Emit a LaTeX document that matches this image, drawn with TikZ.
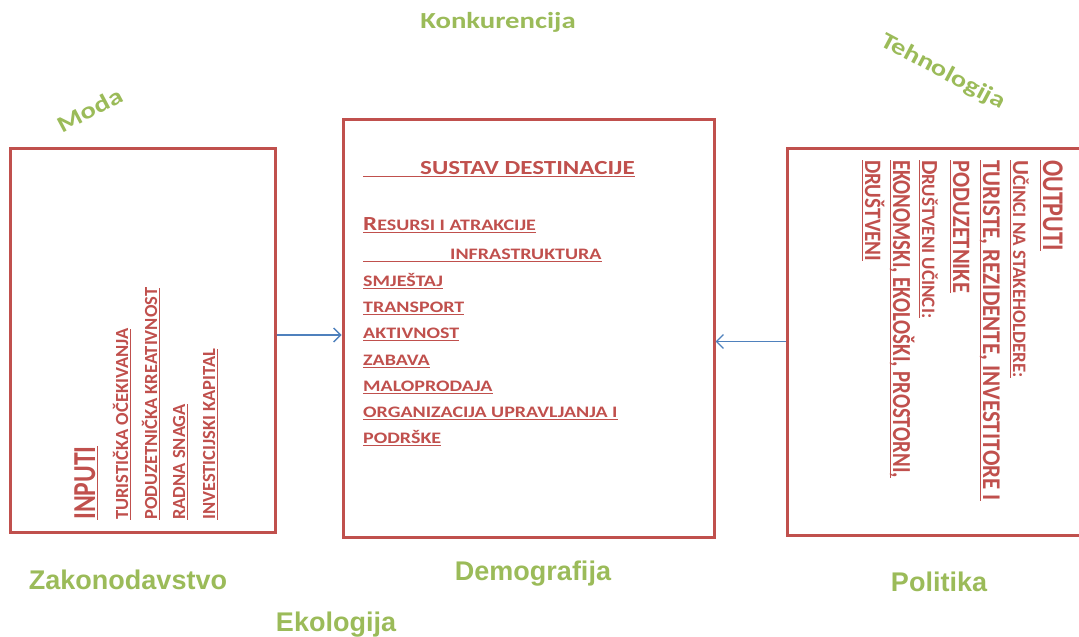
\documentclass[tikz,border=0pt]{standalone}
\usepackage{fontspec}
\setmainfont{Carlito}
\newfontfamily\cw{Carlito}[FakeStretch=1.25]
\newfontfamily\cn{Carlito}[FakeStretch=0.8]
\newfontfamily\cm{Carlito}[FakeStretch=0.9]
\newfontfamily\ar{Liberation Sans}
\usetikzlibrary{arrows.meta}
\definecolor{boxred}{HTML}{C0504D}
\definecolor{grn}{HTML}{9BBB59}
\definecolor{arrblue}{HTML}{4F81BD}
\newcommand\setfs[1]{\fontsize{#1}{#1}\selectfont}
\newcommand\ul[1]{\setbox0\hbox{#1}\rlap{\rule[-3pt]{\wd0}{1.2pt}}\box0}
\tikzset{
  frame/.style={draw=boxred, line width=3pt, inner sep=0, minimum width=#1},
  arr/.style={draw=arrblue, line width=1.3pt, -{Straight Barb[length=7pt,width=14pt]}},
  lst/.style={anchor=base west, inner sep=0, text=boxred, font=\cw\bfseries\setfs{16}},
  lt/.style={rotate=90, anchor=base west, inner sep=0, text=boxred, font=\rmfamily\bfseries\setfs{18.5}},
  rt/.style={rotate=-90, anchor=base west, inner sep=0, text=boxred, font=\rmfamily\bfseries\setfs{19}},
  glab/.style={inner sep=0, text=grn, font=\cw\bfseries\setfs{23}},
  blab/.style={inner sep=0, text=grn, font=\ar\bfseries\setfs{27}}
}
\begin{document}
\begin{tikzpicture}[x=1pt,y=-1pt]
\clip (0,0) rectangle (1079,637);
\useasboundingbox (0,0) rectangle (1079,637);
% boxes
\node[frame=265pt, minimum height=384pt] (L) at (142.5,340) {};
\node[frame=371pt, minimum height=418pt] (M) at (528.5,328) {};
\node[frame=303pt, minimum height=387pt] (R) at (938.5,341.5) {};
% arrows
\coordinate (a1) at ([yshift=5pt]L.east);
\draw[arr] (a1) -- (a1 -| M.west);
\draw[arr] (R.west) -- (R.west -| M.east);
% middle box text
\node[lst, font=\cw\bfseries\setfs{20}] (t0) at (363,174) {\ul{\hspace*{57pt}SUSTAV DESTINACIJE}};
\node[lst] (m1) at (363,230) {\ul{{\setfs{20}R}ESURSI I ATRAKCIJE}};
\node[lst] (m2) at (363,259) {\ul{\hspace*{87pt}INFRASTRUKTURA}};
\node[lst] (m3) at (363,286) {\ul{SMJEŠTAJ}};
\node[lst] (m4) at (363,312) {\ul{TRANSPORT}};
\node[lst] (m5) at (363,338) {\ul{AKTIVNOST}};
\node[lst] (m6) at (363,365) {\ul{ZABAVA}};
\node[lst] (m7) at (363,391) {\ul{MALOPRODAJA}};
\node[lst] (m8) at (363,417) {\ul{ORGANIZACIJA UPRAVLJANJA I}};
\node[lst] (m9) at (363,443) {\ul{PODRŠKE}};
% left box text
\node[lt, font=\cn\bfseries\setfs{32}] (i0) at (95,520) {\ul{INPUTI}};
\node[lt] (i1) at (128,520) {\ul{TURISTIČKA OČEKIVANJA}};
\node[lt] (i2) at (157,520) {\ul{PODUZETNIČKA KREATIVNOST}};
\node[lt] (i3) at (185,520) {\ul{RADNA SNAGA}};
\node[lt] (i4) at (215,520) {\ul{INVESTICIJSKI KAPITAL}};
% right box text
\node[rt, font=\cn\bfseries\setfs{30}] (o0) at (1043,160) {\ul{OUTPUTI}};
\node[rt] (o1) at (1013,160) {\ul{{\setfs{23}U}ČINCI NA STAKEHOLDERE:}};
\node[rt, font=\cm\bfseries\setfs{25.5}] (o2) at (983,160) {\ul{TURISTE, REZIDENTE, INVESTITORE I}};
\node[rt, font=\cm\bfseries\setfs{25}] (o3) at (953,160) {\ul{PODUZETNIKE}};
\node[rt] (o4) at (922,160) {\ul{{\setfs{23}D}RUŠTVENI UČINCI:}};
\node[rt, font=\cn\bfseries\setfs{26}] (o5) at (893,160) {\ul{EKONOMSKI, EKOLOŠKI, PROSTORNI,}};
\node[rt, font=\cm\bfseries\setfs{23.5}] (o6) at (865,160) {\ul{DRUŠTVENI}};
% environment labels
\node[glab] (k) at (498,22) {Konkurencija};
\node[glab, rotate=28] (mo) at (90,110) {Moda};
\node[glab, rotate=-28] (te) at (943,72) {Tehnologija};
\node[blab] (z) at (128,580) {Zakonodavstvo};
\node[blab] (d) at (533,574) {Demografija};
\node[blab] (p) at (939,582) {Politika};
\node[blab] (e) at (336,625) {Ekologija};
\end{tikzpicture}
\end{document}
